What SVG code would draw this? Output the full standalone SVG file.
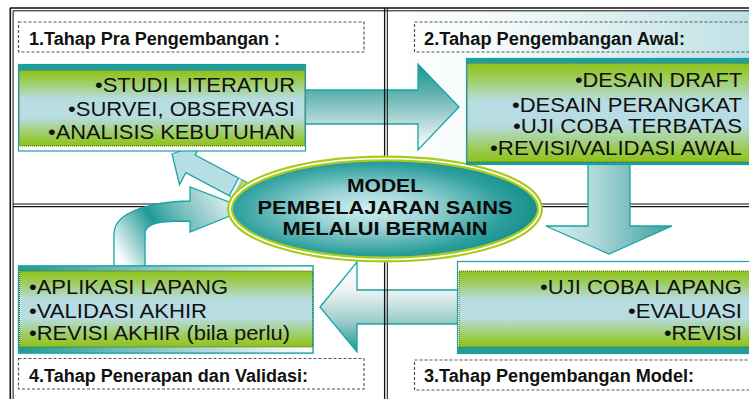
<svg xmlns="http://www.w3.org/2000/svg" width="749" height="399" viewBox="0 0 749 399">
<defs>
<style>
.ttl{font-family:"Liberation Sans",Arial,sans-serif;font-weight:bold;font-size:18px;fill:#111}
.bl{font-family:"Liberation Sans",Arial,sans-serif;font-size:19.5px;fill:#111}
.mid{font-family:"Liberation Sans",Arial,sans-serif;font-weight:bold;font-size:18.5px;fill:#0a0a0a;text-anchor:middle}
.lbl{fill:#fff;stroke:#555;stroke-width:1.2;stroke-dasharray:3 2}
.outer{fill:#fff;stroke:#1ba3a3;stroke-width:1.2}
.grn{fill:url(#gGreen);stroke:#4d5a12;stroke-width:0.9;stroke-dasharray:1 1}
.arr{stroke:#1ba3a3;stroke-width:1.3;stroke-linejoin:miter}
.ln{stroke:#111;fill:none}
</style>
<linearGradient id="gGreen" x1="0" y1="0" x2="0" y2="1">
<stop offset="0" stop-color="#8cc21c"/>
<stop offset="0.1" stop-color="#98c941"/>
<stop offset="0.38" stop-color="#b7dde2"/>
<stop offset="0.62" stop-color="#b7dde2"/>
<stop offset="0.9" stop-color="#98c941"/>
<stop offset="1" stop-color="#8cc21c"/>
</linearGradient>
<linearGradient id="gBg" x1="0" y1="0" x2="1" y2="0">
<stop offset="0" stop-color="#ffffff"/>
<stop offset="0.3" stop-color="#f4fafa"/>
<stop offset="1" stop-color="#bfe1e5"/>
</linearGradient>
<linearGradient id="gRight" gradientUnits="userSpaceOnUse" x1="0" y1="70" x2="0" y2="145">
<stop offset="0" stop-color="#259a98"/>
<stop offset="0.3" stop-color="#5eb1b0"/>
<stop offset="1" stop-color="#f7f9f9"/>
</linearGradient>
<linearGradient id="gDown" gradientUnits="userSpaceOnUse" x1="550" y1="0" x2="672" y2="0">
<stop offset="0" stop-color="#d6eef0"/>
<stop offset="0.35" stop-color="#b2dadd"/>
<stop offset="1" stop-color="#3c9f9d"/>
</linearGradient>
<linearGradient id="gLeft" gradientUnits="userSpaceOnUse" x1="0" y1="264" x2="0" y2="352">
<stop offset="0" stop-color="#ffffff"/>
<stop offset="0.3" stop-color="#eef3f3"/>
<stop offset="0.65" stop-color="#9ccdcc"/>
<stop offset="1" stop-color="#1f9593"/>
</linearGradient>
<linearGradient id="gCurve" gradientUnits="userSpaceOnUse" x1="125" y1="266" x2="240" y2="195">
<stop offset="0" stop-color="#ffffff"/>
<stop offset="0.35" stop-color="#1f9a98"/>
<stop offset="0.55" stop-color="#6fbcbb"/>
<stop offset="1" stop-color="#f5f8f8"/>
</linearGradient>
<linearGradient id="gStripL" x1="0" y1="0" x2="1" y2="0">
<stop offset="0" stop-color="#1f9a98"/>
<stop offset="1" stop-color="#ffffff"/>
</linearGradient>
<radialGradient id="gEll" cx="0.45" cy="0.5" r="0.55">
<stop offset="0" stop-color="#cfeff1"/>
<stop offset="0.35" stop-color="#9dd4d6"/>
<stop offset="0.8" stop-color="#2c9f9d"/>
<stop offset="1" stop-color="#178f8d"/>
</radialGradient>
</defs>

<g id="background">
<rect x="0" y="0" width="749" height="399" fill="#fff"/>
<rect x="388" y="11" width="361" height="153" fill="url(#gBg)"/>
</g>

<g id="grid-horizontal">
<line class="ln" x1="10" y1="8" x2="749" y2="8" stroke-width="1.6"/>
<line class="ln" x1="13" y1="10.8" x2="749" y2="10.8" stroke-width="1"/>
<line class="ln" x1="10.3" y1="8" x2="10.3" y2="399" stroke-width="1.6"/>
<line class="ln" x1="13.1" y1="10.8" x2="13.1" y2="399" stroke-width="1"/>
<line class="ln" x1="13" y1="204" x2="749" y2="204" stroke-width="1.1"/>
<line class="ln" x1="13" y1="206.6" x2="749" y2="206.6" stroke-width="1.1"/>
</g>

<g id="connectors">
<path class="arr" fill="url(#gCurve)" d="M114,268 V234 C114,212 150,202 190,201 V187 L247,209 L190,232 V221 C162,221 145,222 145,234 V268 Z"/>
<g transform="translate(172,154) rotate(28)">
<path class="arr" fill="#b6dfe3" d="M0,0 L21,-23.5 L21,-10 L81,-10 L81,10 L21,10 L21,23.5 Z"/>
<line x1="70" y1="-10" x2="70" y2="10" stroke="#1ba3a3" stroke-width="1"/>
<line x1="72" y1="-10" x2="72" y2="10" stroke="#ffffff" stroke-width="1.5"/>
<line x1="75" y1="-10" x2="75" y2="10" stroke="#a5c917" stroke-width="1.2"/>
<line x1="78" y1="-10" x2="78" y2="10" stroke="#a5c917" stroke-width="1.2"/>
</g>
<path class="arr" fill="url(#gRight)" d="M300,90 H418 V64 L459,107 L418,150 V124 H300 Z"/>
<path class="arr" fill="url(#gDown)" d="M588,160 V226 H546 L609,254 L672,226 H630 V160 Z"/>
<path class="arr" fill="url(#gLeft)" d="M462,290 H357 V262 L320,307 L357,352 V324 H462 Z"/>
</g>

<g id="grid-vertical">
<line class="ln" x1="384.6" y1="8" x2="384.6" y2="399" stroke-width="1.3"/>
<line class="ln" x1="387.3" y1="8" x2="387.3" y2="399" stroke-width="1"/>
</g>

<g id="node-model">
<ellipse cx="385" cy="209" rx="155" ry="50.5" fill="url(#gEll)" stroke="#a8cc1c" stroke-width="6"/>
<ellipse cx="385" cy="209" rx="155" ry="50.5" fill="none" stroke="#ffffff" stroke-width="1.6"/>
<text class="mid" x="385" y="192" textLength="76" lengthAdjust="spacingAndGlyphs">MODEL</text>
<text class="mid" x="385" y="213.5" textLength="255" lengthAdjust="spacingAndGlyphs">PEMBELAJARAN SAINS</text>
<text class="mid" x="385" y="235" textLength="205" lengthAdjust="spacingAndGlyphs">MELALUI BERMAIN</text>
</g>

<g id="node-tahap1">
<rect class="lbl" x="18.5" y="22" width="345.5" height="30"/>
<text class="ttl" x="29" y="44.5" textLength="251" lengthAdjust="spacingAndGlyphs">1.Tahap Pra Pengembangan :</text>
<rect class="outer" x="18.5" y="64.5" width="287" height="86.5"/>
<rect x="18.5" y="64.5" width="287" height="6" fill="#1f9e9c"/>
<rect class="grn" x="19.5" y="70.5" width="285" height="75.5"/>
<text class="bl" text-anchor="end" x="295" y="92" textLength="200" lengthAdjust="spacingAndGlyphs">•STUDI LITERATUR</text>
<text class="bl" text-anchor="end" x="295" y="116" textLength="227" lengthAdjust="spacingAndGlyphs">•SURVEI, OBSERVASI</text>
<text class="bl" text-anchor="end" x="295" y="139" textLength="247" lengthAdjust="spacingAndGlyphs">•ANALISIS KEBUTUHAN</text>
</g>

<g id="node-tahap2">
<rect x="414.5" y="22" width="340" height="30" fill="none" stroke="#555" stroke-width="1.2" stroke-dasharray="3 2"/>
<text class="ttl" x="424" y="45" textLength="261" lengthAdjust="spacingAndGlyphs">2.Tahap Pengembangan Awal:</text>
<rect class="outer" x="466.5" y="58.5" width="290" height="106"/>
<rect x="466.5" y="58.5" width="290" height="5" fill="#1f9e9c"/>
<rect x="466.5" y="161.5" width="290" height="3" fill="#1f9e9c"/>
<rect class="grn" x="467.5" y="63.5" width="290" height="98.5"/>
<text class="bl" text-anchor="end" x="742" y="87" textLength="167" lengthAdjust="spacingAndGlyphs">•DESAIN DRAFT</text>
<text class="bl" text-anchor="end" x="742" y="111.5" textLength="230" lengthAdjust="spacingAndGlyphs">•DESAIN PERANGKAT</text>
<text class="bl" text-anchor="end" x="742" y="132.5" textLength="229" lengthAdjust="spacingAndGlyphs">•UJI COBA TERBATAS</text>
<text class="bl" text-anchor="end" x="742" y="155" textLength="252" lengthAdjust="spacingAndGlyphs">•REVISI/VALIDASI AWAL</text>
</g>

<g id="node-tahap3">
<rect class="outer" x="457.5" y="261.5" width="300" height="92"/>
<rect x="457.5" y="347" width="300" height="6.5" fill="#1f9e9c"/>
<rect class="grn" x="459" y="271" width="300" height="76"/>
<text class="bl" text-anchor="end" x="742" y="294" textLength="202" lengthAdjust="spacingAndGlyphs">•UJI COBA LAPANG</text>
<text class="bl" text-anchor="end" x="742" y="318" textLength="114" lengthAdjust="spacingAndGlyphs">•EVALUASI</text>
<text class="bl" text-anchor="end" x="742" y="340" textLength="78" lengthAdjust="spacingAndGlyphs">•REVISI</text>
<rect class="lbl" x="414.5" y="360" width="340" height="30"/>
<text class="ttl" x="424" y="382" textLength="270" lengthAdjust="spacingAndGlyphs">3.Tahap Pengembangan Model:</text>
</g>

<g id="node-tahap4">
<rect class="outer" x="18.5" y="266" width="294.5" height="87"/>
<rect x="18.5" y="266" width="294.5" height="5" fill="url(#gStripL)"/>
<rect x="18.5" y="347" width="294.5" height="6" fill="url(#gStripL)"/>
<rect x="18.5" y="266" width="294.5" height="87" fill="none" stroke="#1ba3a3" stroke-width="1.2"/>
<rect class="grn" x="19.5" y="271" width="293" height="76"/>
<text class="bl" x="29" y="294" textLength="199" lengthAdjust="spacingAndGlyphs">•APLIKASI LAPANG</text>
<text class="bl" x="29" y="318" textLength="178" lengthAdjust="spacingAndGlyphs">•VALIDASI AKHIR</text>
<text class="bl" x="29" y="340" textLength="261" lengthAdjust="spacingAndGlyphs">•REVISI AKHIR (bila perlu)</text>
<rect class="lbl" x="18.5" y="358.5" width="345.5" height="30.5"/>
<text class="ttl" x="29" y="381.5" textLength="279" lengthAdjust="spacingAndGlyphs">4.Tahap Penerapan dan Validasi:</text>
</g>
</svg>
